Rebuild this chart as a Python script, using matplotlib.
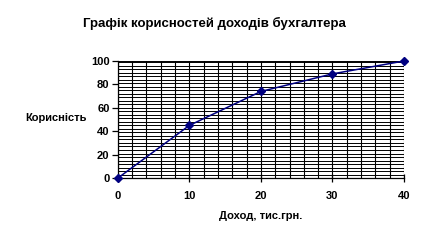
import numpy as np
import matplotlib
matplotlib.use("Agg")
import matplotlib.pyplot as plt

plt.rcParams["font.family"] = ["Liberation Sans", "DejaVu Sans"]
plt.rcParams["font.weight"] = "bold"

income = [0, 10, 20, 30, 40]
utility = [0, 45, 74, 89, 100]

title = "Графік корисностей доходів бухгалтера"
x_label = "Доход, тис.грн."
y_label = "Корисність"

fig = plt.figure(figsize=(4.27, 2.47), dpi=100)
ax = fig.add_axes([0.276, 0.279, 0.67, 0.474])

# dense grid like the excel chart
for x in np.arange(0, 40.1, 2):
    ax.axvline(x, color="black", lw=0.8, zorder=1)
for y in list(np.arange(0, 100, 3)) + [100]:
    ax.axhline(y, color="black", lw=0.7, zorder=1)

ax.plot(income, utility, color="#000080", lw=1.1, marker="D", ms=4,
        zorder=3, clip_on=False)

ax.set_xlim(0, 40)
ax.set_ylim(0, 100)
ax.set_xticks(range(0, 41, 10))
ax.set_yticks(range(0, 101, 20))
for s in ["top", "right"]:
    ax.spines[s].set_visible(False)
for s in ["left", "bottom"]:
    ax.spines[s].set_color("black")
    ax.spines[s].set_linewidth(0.9)
ax.tick_params(axis="x", direction="inout", length=6, width=0.9, labelsize=8, pad=6)
ax.tick_params(axis="y", direction="out", length=4, width=0.9, labelsize=8, pad=2)
for lab in ax.get_xticklabels() + ax.get_yticklabels():
    lab.set_fontweight("bold")

fig.text(0.503, 0.905, title, ha="center", va="center", fontsize=9.5, fontweight="bold")
fig.text(0.13, 0.522, y_label, ha="center", va="center", fontsize=8, fontweight="bold")
fig.text(0.61, 0.126, x_label, ha="center", va="center", fontsize=8, fontweight="bold")

fig.savefig("out.png", dpi=100)
